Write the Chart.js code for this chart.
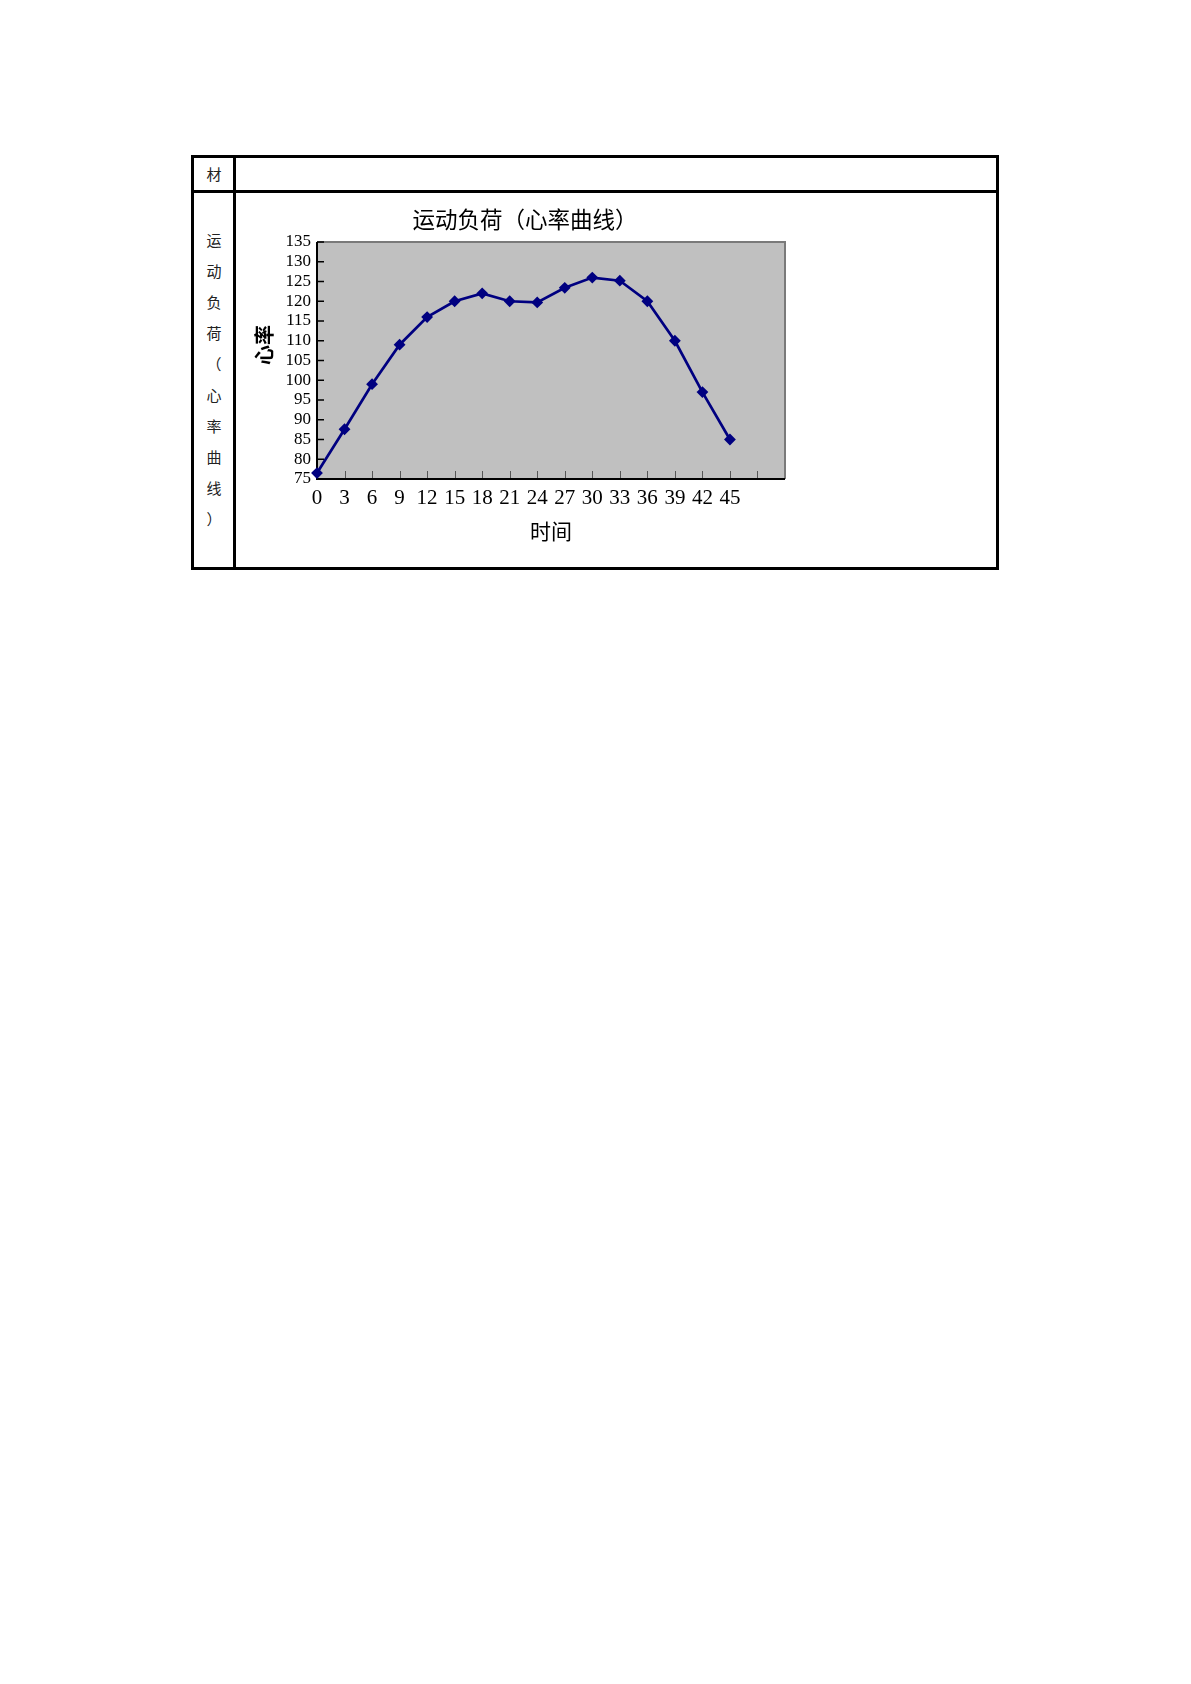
<!DOCTYPE html>
<html>
<head>
<meta charset="utf-8">
<script src="https://cdn.jsdelivr.net/npm/chart.js@4.4.1/dist/chart.umd.min.js"></script>
<style>
    body { margin: 0; background: #fff; width: 1191px; height: 1684px; position: relative; font-family: "Noto Sans CJK SC", sans-serif; }
    .line { position: absolute; background: #000; }
    .cell-text { position: absolute; font-size: 15px; color: #222; text-align: center; width: 30px; }
    #vertical { left: 199px; top: 224px; line-height: 31px; }
    #chartBox { position: absolute; left: 236px; top: 193px; width: 564px; height: 374px; }
    #yTitle { position: absolute; left: 244px; top: 333px; width: 40px; height: 24px; line-height: 24px;
              text-align: center; font-size: 20px; font-weight: bold; transform: rotate(-90deg); }
</style>
</head>
<body>

<!-- table frame -->
<div class="line" style="left:191px; top:155px; width:808px; height:3px;"></div>
<div class="line" style="left:191px; top:190px; width:808px; height:3px;"></div>
<div class="line" style="left:191px; top:567px; width:808px; height:3px;"></div>
<div class="line" style="left:191px; top:155px; width:3px; height:415px;"></div>
<div class="line" style="left:233px; top:155px; width:3px; height:415px;"></div>
<div class="line" style="left:996px; top:155px; width:3px; height:415px;"></div>

<div class="cell-text" style="left:199px; top:163px; line-height:22px;">材</div>
<div class="cell-text" id="vertical">运<br>动<br>负<br>荷<br>（<br>心<br>率<br>曲<br>线<br>）</div>

<div id="chartBox"><canvas id="graficoCoracao"></canvas></div>
<div id="yTitle">心率</div>

<script>
// tempo (min) e frequencia cardiaca
var tempos = [0, 3, 6, 9, 12, 15, 18, 21, 24, 27, 30, 33, 36, 39, 42, 45];
var frequencia = [76.5, 87.6, 99, 109, 116, 120, 122, 120, 119.7, 123.4, 126, 125.2, 120, 110, 97, 85];

var marcasX = [0, 3, 6, 9, 12, 15, 18, 21, 24, 27, 30, 33, 36, 39, 42, 45, 48];
var marcasY = [75, 80, 85, 90, 95, 100, 105, 110, 115, 120, 125, 130, 135];

var fonteNumeros = "'Liberation Serif', 'DejaVu Serif', serif";
var fonteTitulo = "'Liberation Serif', 'Noto Sans CJK SC', serif";

var moldura = {
    id: "moldura",
    beforeDatasetsDraw: function (chart) {
        var ctx = chart.ctx;
        var a = chart.chartArea;
        var sx = chart.scales.x;
        var sy = chart.scales.y;

        ctx.save();
        ctx.fillStyle = "#c0c0c0";
        ctx.fillRect(a.left, a.top, a.right - a.left, a.bottom - a.top);

        ctx.strokeStyle = "#7a7a7a";
        ctx.lineWidth = 2;
        ctx.beginPath();
        ctx.moveTo(a.left, a.top);
        ctx.lineTo(a.right, a.top);
        ctx.lineTo(a.right, a.bottom);
        ctx.stroke();

        // marcas internas do eixo x
        ctx.strokeStyle = "#555";
        ctx.lineWidth = 1;
        sx.ticks.forEach(function (t) {
            var px = Math.round(sx.getPixelForValue(t.value)) + 0.5;
            ctx.beginPath();
            ctx.moveTo(px, a.bottom);
            ctx.lineTo(px, a.bottom - 8);
            ctx.stroke();
        });

        // marcas internas do eixo y
        ctx.strokeStyle = "#000";
        ctx.lineWidth = 1.5;
        sy.ticks.forEach(function (t) {
            var py = sy.getPixelForValue(t.value);
            ctx.beginPath();
            ctx.moveTo(a.left, py);
            ctx.lineTo(a.left + 7, py);
            ctx.stroke();
        });

        ctx.strokeStyle = "#000";
        ctx.lineWidth = 2;
        ctx.beginPath();
        ctx.moveTo(a.left, a.top);
        ctx.lineTo(a.left, a.bottom);
        ctx.lineTo(a.right, a.bottom);
        ctx.stroke();
        ctx.restore();
    }
};

function criarGrafico() {
    var ctx = document.getElementById("graficoCoracao").getContext("2d");
    var pontos = tempos.map(function (t, i) {
        return { x: t, y: frequencia[i] };
    });

    new Chart(ctx, {
        type: "line",
        data: {
            datasets: [{
                data: pontos,
                borderColor: "#000080",
                backgroundColor: "#000080",
                borderWidth: 2.7,
                pointStyle: "rectRot",
                pointRadius: 4,
                pointHoverRadius: 4,
                tension: 0,
                clip: false
            }]
        },
        options: {
            responsive: true,
            maintainAspectRatio: false,
            animation: false,
            layout: { padding: { left: 29, right: 15, top: 0, bottom: 0 } },
            plugins: {
                legend: { display: false },
                tooltip: { enabled: false },
                title: {
                    display: true,
                    text: "运动负荷（心率曲线）",
                    color: "#000",
                    font: { family: fonteTitulo, size: 22.5, weight: "normal", lineHeight: 1.2 },
                    padding: { top: 16, bottom: 6 }
                }
            },
            scales: {
                x: {
                    type: "linear",
                    min: 0,
                    max: 51,
                    afterFit: function (scale) { scale.height = 88; },
                    afterBuildTicks: function (scale) {
                        scale.ticks = marcasX.map(function (v) { return { value: v }; });
                    },
                    grid: { display: false, drawTicks: false },
                    border: { display: false },
                    ticks: {
                        autoSkip: false,
                        maxRotation: 0,
                        padding: 7,
                        color: "#000",
                        font: { family: fonteNumeros, size: 21 },
                        callback: function (v) {
                            return tempos.indexOf(v) >= 0 ? String(v) : "";
                        }
                    },
                    title: {
                        display: true,
                        text: "时间",
                        color: "#000",
                        font: { family: fonteTitulo, size: 21, lineHeight: 1.2 },
                        padding: { top: 0, bottom: 21 }
                    }
                },
                y: {
                    min: 75,
                    max: 135,
                    afterFit: function (scale) { scale.width = 52; },
                    afterBuildTicks: function (scale) {
                        scale.ticks = marcasY.map(function (v) { return { value: v }; });
                    },
                    grid: { display: false, drawTicks: false },
                    border: { display: false },
                    ticks: {
                        autoSkip: false,
                        padding: 6,
                        color: "#000",
                        font: { family: fonteNumeros, size: 17 }
                    }
                }
            }
        },
        plugins: [moldura]
    });
}

criarGrafico();
</script>
</body>
</html>
